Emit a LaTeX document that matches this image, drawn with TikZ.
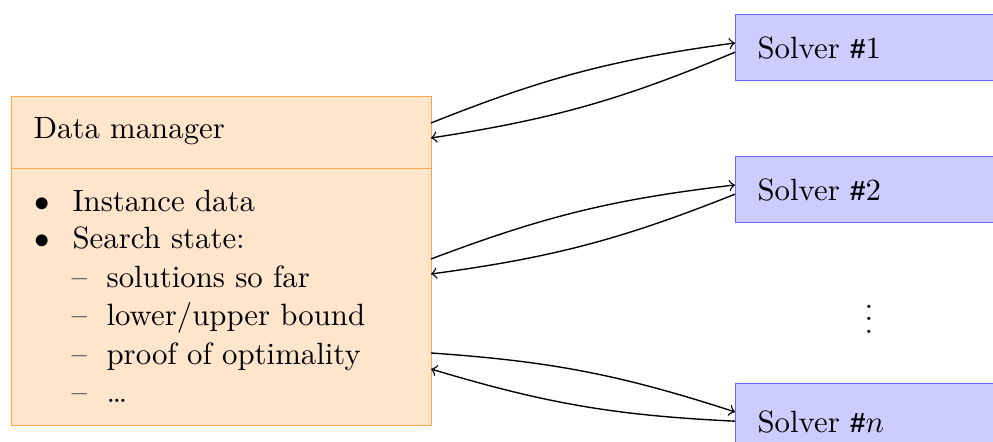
\documentclass[tikz,border=0pt]{standalone}
\usepackage{fontspec}
\newfontfamily\hashfont{Liberation Sans}
\usetikzlibrary{calc}
\newcommand{\hashsign}{{\hashfont\bfseries\fontsize{9}{11}\selectfont\#}}
\begin{document}
\begin{tikzpicture}[x=0.3247pt,y=-0.3247pt,
  dmbox/.style={draw=orange!70, fill=orange!20},
  solverbox/.style={draw=blue!60, fill=blue!20, anchor=north west, minimum width=110pt, minimum height=21.4pt},
  txt/.style={inner sep=0pt, anchor=base west},
  conn/.style={->, line width=0.45pt, bend left=7}]
\clip (0,0) rectangle (993,442);
% data manager
\node[dmbox, anchor=north west, minimum width=136.4pt, minimum height=23.4pt] (dmhead) at (11,96) {};
\node[dmbox, anchor=north west, minimum width=136.4pt, minimum height=83.4pt] (dmbody) at (11,168) {};
\node[txt] (dmtitle) at (33,139) {Data manager};
\node[txt] (b1) at (34,212) {$\bullet$};
\node[txt] (i1) at (72,212) {Instance data};
\node[txt] (b2) at (34,249) {$\bullet$};
\node[txt] (i2) at (72,249) {Search state:};
\node[txt] (d1) at (71,288) {--};
\node[txt] (j1) at (106,288) {solutions so far};
\node[txt] (d2) at (71,326) {--};
\node[txt] (j2) at (106,326) {lower/upper bound};
\node[txt] (d3) at (71,365) {--};
\node[txt] (j3) at (106,365) {proof of optimality};
\node[txt] (d4) at (71,403) {--};
\node[txt] (j4) at (106,403) {…};
% solvers
\node[solverbox] (s1) at (735,14) {};
\node[solverbox] (s2) at (735,156) {};
\node[solverbox] (sn) at (735,383) {};
\node[txt] (s1t) at (757,59) {Solver \hashsign 1};
\node[txt] (s2t) at (757,201) {Solver \hashsign 2};
\node[txt] (snt) at (757,433) {Solver \hashsign$n$};
\node (dots) at (869,310) {$\vdots$};
% connection points on the data manager
\coordinate (a1) at (431,123);
\coordinate (r1) at (431,138);
\coordinate (a2) at (431,259);
\coordinate (r2) at (431,274);
\coordinate (an) at (431,353);
\coordinate (rn) at (431,369);
% connectors
\draw[conn] (a1) to ([yshift=1.5pt]s1.west);
\draw[conn] ([yshift=-1.5pt]s1.west) to (r1);
\draw[conn] (a2) to ([yshift=1.5pt]s2.west);
\draw[conn] ([yshift=-1.5pt]s2.west) to (r2);
\draw[conn] (an) to ([yshift=1.5pt]sn.west);
\draw[conn] ([yshift=-1.5pt]sn.west) to (rn);
\end{tikzpicture}
\end{document}
